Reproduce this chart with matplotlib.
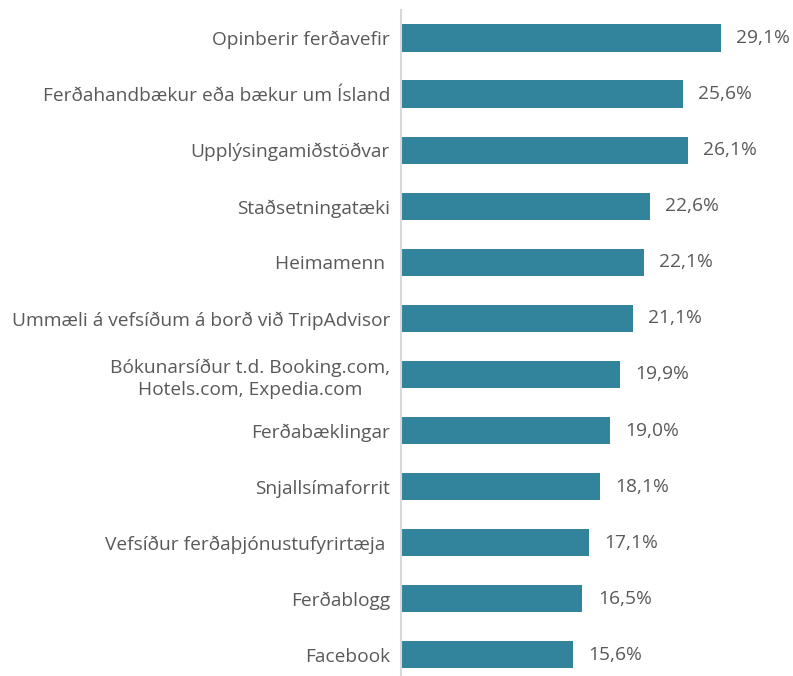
import matplotlib.pyplot as plt

# Upplýsingaveitur ferðamanna, hlutfall svarenda
categories = [
    "Opinberir ferðavefir",
    "Ferðahandbækur eða bækur um Ísland",
    "Upplýsingamiðstöðvar",
    "Staðsetningatæki",
    "Heimamenn ",
    "Ummæli á vefsíðum á borð við TripAdvisor",
    "Bókunarsíður t.d. Booking.com,\nHotels.com, Expedia.com",
    "Ferðabæklingar",
    "Snjallsímaforrit",
    "Vefsíður ferðaþjónustufyrirtæja ",
    "Ferðablogg",
    "Facebook",
]
values = [29.1, 25.6, 26.1, 22.6, 22.1, 21.1, 19.9, 19.0, 18.1, 17.1, 16.5, 15.6]

plt.rcParams['font.family'] = ['Open Sans', 'DejaVu Sans']
text_color = '#595959'

fig = plt.figure(figsize=(7.93, 6.76), dpi=100)
ax = fig.add_axes([401 / 793, -0.01, 0.48, 0.995])

ypos = list(range(len(categories)))
ax.barh(ypos, values, height=0.49, color='#31849B')
ax.set_ylim(len(categories) - 0.5, -0.5)
ax.set_xlim(0, 29.1 * (0.48 * 793) / 320)

for y, v in zip(ypos, values):
    ax.text(v + 1.4, y, f"{v:.1f}".replace('.', ',') + '%', va='center', ha='left',
            fontsize=13.8, color=text_color)

ax.set_yticks(ypos)
ax.set_yticklabels(categories, fontsize=13.8, color=text_color, ha='right',
                   multialignment='center', linespacing=1.3)
ax.tick_params(axis='y', length=0, pad=8)
ax.set_xticks([])

for s in ['top', 'right', 'bottom']:
    ax.spines[s].set_visible(False)
ax.spines['left'].set_color('#d9d9d9')
ax.spines['left'].set_linewidth(1.5)

fig.savefig('out.png', dpi=100)
